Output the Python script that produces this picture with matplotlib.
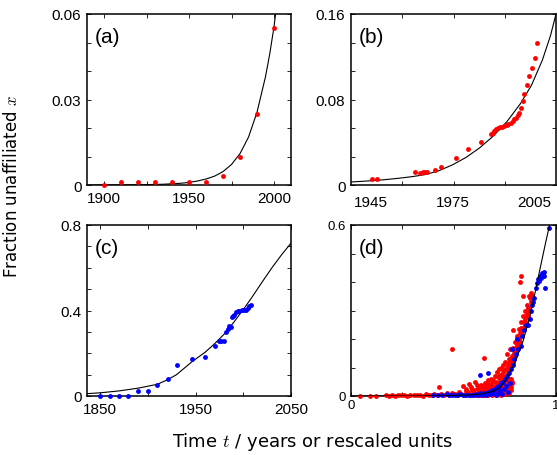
import numpy as np
import matplotlib
matplotlib.use("Agg")
import matplotlib.pyplot as plt

plt.rcParams['mathtext.fontset'] = 'cm'

# (a) red points and fitted curve
a_years = [1900, 1910, 1920, 1930, 1940, 1950, 1960, 1970, 1980, 1990, 2000]
a_frac = [0.0, 0.001, 0.001, 0.001, 0.001, 0.001, 0.001, 0.003, 0.010, 0.025, 0.055]
a_curve_t = [1890, 1920, 1935, 1945, 1950, 1955, 1960, 1965, 1970, 1975, 1980,
             1985, 1990, 1995, 1997.5, 2000, 2002]
a_curve_x = [0.0, 0.00008, 0.00027, 0.0006, 0.0009, 0.0014, 0.0021, 0.0031, 0.0047,
             0.0072, 0.011, 0.0168, 0.0255, 0.038, 0.046, 0.0555, 0.065]

# (b)
b_years = [1945.1, 1946.9, 1961.1, 1962.9, 1963.9, 1964.8, 1965.6, 1968.4, 1970.5,
           1976.0, 1980.7, 1985.4, 1989.1, 1989.7, 1990.3, 1990.9, 1991.5, 1992.4,
           1993.2, 1994.0, 1994.8, 1995.5, 1996.3, 1997.0, 1997.6, 1998.3, 1998.9,
           1999.5, 2000.1, 2000.7, 2001.3, 2002.2, 2003.2, 2004.2, 2005.3, 2006.1]
b_frac = [0.006, 0.006, 0.012, 0.0116, 0.0118, 0.012, 0.0125, 0.014, 0.017,
          0.025, 0.034, 0.040, 0.0475, 0.049, 0.0506, 0.052, 0.0534, 0.0544,
          0.0547, 0.0553, 0.0563, 0.0575, 0.0584, 0.0597, 0.0613, 0.0631, 0.0653,
          0.0678, 0.0725, 0.0788, 0.0856, 0.0934, 0.1022, 0.1091, 0.1191, 0.1325]
b_curve_t = [1937.5, 1945, 1950, 1955, 1960, 1965, 1970, 1975, 1980, 1985, 1990,
             1995, 2000, 2004, 2008, 2011, 2013]
b_curve_x = [0.0028, 0.004, 0.005, 0.0063, 0.0078, 0.0098, 0.0135, 0.019, 0.026,
             0.035, 0.046, 0.0595, 0.0765, 0.0935, 0.117, 0.14, 0.16]

# (c) blue points
c_years = [1850, 1859.7, 1869.8, 1879.5, 1889.9, 1899.7, 1909.4, 1920.5, 1930.2,
           1946.5, 1959.7, 1970.5, 1974.3, 1976.7, 1979.2, 1981.9, 1984.0, 1985.4,
           1987.2, 1988.2, 1988.9, 1990.6, 1992.4, 1994.1, 1995.8, 1998.6, 2000.3,
           2002.8, 2004.5, 2006.3, 2008.0]
c_frac = [0.0, 0.0, 0.0, 0.0, 0.022, 0.022, 0.053, 0.081, 0.143,
          0.171, 0.182, 0.233, 0.259, 0.259, 0.259, 0.301, 0.314, 0.329,
          0.322, 0.368, 0.376, 0.379, 0.391, 0.399, 0.399, 0.402, 0.404,
          0.404, 0.41, 0.419, 0.426]
c_curve_t = [1836, 1850, 1870, 1890, 1910, 1920, 1930, 1946, 1960, 1970, 1980,
             1990, 2000, 2008, 2020, 2030, 2040, 2050]
c_curve_x = [0.011, 0.015, 0.024, 0.037, 0.055, 0.075, 0.1, 0.16, 0.205, 0.245,
             0.29, 0.345, 0.405, 0.455, 0.535, 0.6, 0.66, 0.715]

# (d) rescaled data, red and blue sets
d_red_x = [0.044, 0.095, 0.12, 0.17, 0.185, 0.2, 0.215, 0.23, 0.245, 0.26, 0.275,
           0.29, 0.305, 0.32, 0.335, 0.35, 0.365, 0.38, 0.395, 0.405, 0.42, 0.431,
           0.44, 0.455, 0.47, 0.48, 0.491, 0.495, 0.505, 0.515, 0.525, 0.535, 0.548,
           0.55, 0.56, 0.565, 0.575, 0.58, 0.59, 0.6, 0.605, 0.61, 0.62, 0.625,
           0.635, 0.64, 0.645, 0.649, 0.655, 0.66, 0.665, 0.67, 0.675, 0.68, 0.685,
           0.69, 0.695, 0.7, 0.7, 0.705, 0.71, 0.71, 0.715, 0.72, 0.72, 0.725,
           0.73, 0.73, 0.735, 0.74, 0.74, 0.745, 0.75, 0.75, 0.755, 0.76, 0.76,
           0.765, 0.765, 0.77, 0.77, 0.775, 0.775, 0.78, 0.78, 0.785, 0.79, 0.792,
           0.795, 0.8, 0.805, 0.81, 0.815, 0.82, 0.824, 0.825, 0.828, 0.83, 0.835,
           0.84, 0.841, 0.845, 0.85, 0.855, 0.86, 0.865, 0.873, 0.87, 0.88, 0.885,
           0.61, 0.63, 0.65, 0.67, 0.69, 0.71, 0.73, 0.75, 0.77, 0.782, 0.784,
           0.6, 0.62, 0.64, 0.66, 0.68, 0.7, 0.72, 0.74, 0.76, 0.778,
           0.76, 0.77, 0.775, 0.78, 0.785, 0.79, 0.795, 0.8, 0.805, 0.81,
           0.815, 0.82, 0.825, 0.83, 0.835, 0.84, 0.845, 0.85, 0.855, 0.86,
           0.865, 0.87, 0.875, 0.88, 0.885, 0.8, 0.79, 0.81, 0.83, 0.85,
           0.56, 0.57, 0.585, 0.595, 0.615, 0.63, 0.645, 0.655, 0.665, 0.675,
           0.685, 0.695, 0.705, 0.715, 0.725, 0.735, 0.745, 0.755, 0.765, 0.775,
           0.785, 0.78, 0.77, 0.76, 0.75, 0.73, 0.71, 0.69, 0.67, 0.65]
d_red_y = [0.001, 0.001, 0.001, 0.002, 0.001, 0.003, 0.001, 0.002, 0.004, 0.002, 0.001,
           0.003, 0.005, 0.002, 0.004, 0.001, 0.006, 0.003, 0.002, 0.008, 0.004, 0.03,
           0.006, 0.002, 0.009, 0.004, 0.165, 0.012, 0.006, 0.002, 0.014, 0.008, 0.036,
           0.004, 0.018, 0.01, 0.042, 0.003, 0.022, 0.012, 0.05, 0.006, 0.028, 0.016,
           0.04, 0.008, 0.02, 0.132, 0.045, 0.03, 0.012, 0.055, 0.038, 0.02, 0.06,
           0.045, 0.008, 0.07, 0.03, 0.05, 0.085, 0.015, 0.065, 0.04, 0.095, 0.075,
           0.1, 0.055, 0.02, 0.085, 0.11, 0.065, 0.04, 0.12, 0.095, 0.075, 0.147,
           0.11, 0.05, 0.13, 0.09, 0.165, 0.03, 0.11, 0.06, 0.14, 0.17, 0.233,
           0.15, 0.19, 0.17, 0.21, 0.19, 0.235, 0.401, 0.22, 0.42, 0.26, 0.24,
           0.28, 0.35, 0.26, 0.3, 0.28, 0.32, 0.31, 0.343, 0.35, 0.36, 0.33,
           0.003, 0.004, 0.002, 0.005, 0.003, 0.006, 0.004, 0.008, 0.01, 0.02, 0.045,
           0.02, 0.025, 0.03, 0.022, 0.035, 0.015, 0.025, 0.03, 0.02, 0.06,
           0.1, 0.115, 0.125, 0.135, 0.12, 0.14, 0.13, 0.16, 0.15, 0.18,
           0.17, 0.2, 0.19, 0.22, 0.215, 0.24, 0.235, 0.27, 0.255, 0.29,
           0.28, 0.31, 0.3, 0.33, 0.35, 0.14, 0.115, 0.2, 0.24, 0.25,
           0.025, 0.015, 0.03, 0.008, 0.04, 0.012, 0.035, 0.015, 0.045, 0.025,
           0.04, 0.055, 0.035, 0.045, 0.06, 0.075, 0.09, 0.06, 0.08, 0.095,
           0.05, 0.03, 0.04, 0.02, 0.01, 0.01, 0.005, 0.025, 0.03, 0.005]
d_blue_x = [0.4, 0.425, 0.445, 0.467, 0.48, 0.491, 0.505, 0.52, 0.532, 0.545, 0.56,
            0.575, 0.59, 0.6, 0.61, 0.62, 0.63, 0.629, 0.64, 0.65, 0.66, 0.669,
            0.67, 0.68, 0.69, 0.695, 0.7, 0.705, 0.71, 0.715, 0.72, 0.725, 0.73,
            0.735, 0.74, 0.745, 0.75, 0.755, 0.76, 0.765, 0.77, 0.775, 0.78, 0.784,
            0.79, 0.795, 0.805, 0.811, 0.815, 0.828, 0.835, 0.845, 0.855, 0.865,
            0.873, 0.878, 0.885, 0.889, 0.893, 0.9, 0.905, 0.91, 0.915, 0.92,
            0.925, 0.93, 0.935, 0.94, 0.943, 0.946, 0.968]
d_blue_y = [0.003, 0.005, 0.002, 0.006, 0.002, 0.005, 0.003, 0.002, 0.006, 0.002, 0.004,
            0.002, 0.005, 0.002, 0.008, 0.003, 0.01, 0.074, 0.005, 0.012, 0.004, 0.08,
            0.015, 0.007, 0.02, 0.01, 0.025, 0.005, 0.03, 0.012, 0.035, 0.02, 0.045,
            0.008, 0.05, 0.025, 0.06, 0.035, 0.07, 0.015, 0.08, 0.045, 0.095, 0.165,
            0.11, 0.13, 0.148, 0.2, 0.165, 0.176, 0.21, 0.23, 0.25, 0.25,
            0.27, 0.3, 0.32, 0.33, 0.345, 0.38, 0.395, 0.41, 0.405, 0.42,
            0.415, 0.43, 0.425, 0.435, 0.42, 0.38, 0.589]
d_curve_s = [0.0, 0.3, 0.45, 0.55, 0.6, 0.65, 0.7, 0.73, 0.76, 0.8, 0.84, 0.873,
             0.9, 0.922, 0.95, 0.975]
d_curve_x = [0.0, 0.0, 0.001, 0.003, 0.005, 0.009, 0.018, 0.032, 0.062, 0.118,
             0.194, 0.282, 0.37, 0.446, 0.54, 0.62]

W, H = 557, 456
fig = plt.figure(figsize=(W / 100, H / 100), dpi=100)

def box(l, t, r, b):
    return [l / W, 1 - b / H, (r - l) / W, (b - t) / H]

TICKFONT = 'Liberation Sans'


def style(ax, xlim, ylim, xmaj, xlab, ymaj, ylab, xmin, ymin, fs=11):
    ax.set_xlim(*xlim)
    ax.set_ylim(*ylim)
    ax.set_xticks(xmaj)
    ax.set_xticklabels(xlab)
    ax.set_yticks(ymaj)
    ax.set_yticklabels(ylab)
    ax.set_xticks(xmin, minor=True)
    ax.set_yticks(ymin, minor=True)
    ax.tick_params(which='both', direction='in', top=True, right=True,
                   length=3.2, width=0.6)
    ax.tick_params(axis='x', pad=4)
    ax.tick_params(axis='y', pad=4)
    for lab in ax.get_xticklabels() + ax.get_yticklabels():
        lab.set_fontfamily(TICKFONT)
        lab.set_fontsize(fs)
    for s in ax.spines.values():
        s.set_linewidth(1.1)


def panel_label(ax, s):
    ax.text(0.04, 0.87, s, transform=ax.transAxes, fontsize=15,
            family=TICKFONT, ha='left', va='center')


dot = dict(ls='none', marker='o', ms=3.5, mec='none', clip_on=False, zorder=3)

# (a)
ax = fig.add_axes(box(87, 15, 291, 186))
ax.plot(a_curve_t, a_curve_x, color='black', lw=0.8)
ax.plot(a_years, a_frac, color='red', **dot)
style(ax, (1890, 2010), (0, 0.06), [1900, 1950, 2000], ['1900', '1950', '2000'],
      [0, 0.03, 0.06], ['0', '0.03', '0.06'], [1925, 1975],
      [0.01, 0.02, 0.04, 0.05])
panel_label(ax, '(a)')

# (b)
ax = fig.add_axes(box(351, 15, 556, 186))
ax.plot(b_curve_t, b_curve_x, color='black', lw=0.8)
ax.plot(b_years, b_frac, color='red', **dot)
bx = (1937.5, 2013)
style(ax, bx, (0, 0.16), [1945, 1975, 2005], ['1945', '1975', '2005'],
      [0, 0.08, 0.16], ['0', '0.08', '0.16'], np.linspace(*bx, 5)[1:-1],
      np.linspace(0, 0.16, 7)[1:-1])
ax.tick_params(axis='x', which='major', length=0, pad=7.2)
panel_label(ax, '(b)')

# (c)
ax = fig.add_axes(box(87, 226, 291, 397))
ax.plot(c_curve_t, c_curve_x, color='black', lw=0.8)
ax.plot(c_years, c_frac, color='blue', **dot)
style(ax, (1836, 2050), (0, 0.8), [1850, 1950, 2050], ['1850', '1950', '2050'],
      [0, 0.4, 0.8], ['0', '0.4', '0.8'], [1900, 2000],
      [0.1, 0.2, 0.3, 0.5, 0.6, 0.7])
panel_label(ax, '(c)')

# (d)
ax = fig.add_axes(box(351, 226, 556, 397))
ax.plot(d_red_x, d_red_y, color='red', **dot)
ax.plot(d_blue_x, d_blue_y, color='blue', **dot)
ax.plot(d_curve_s, d_curve_x, color='black', lw=0.8, zorder=4)
style(ax, (0, 1), (0, 0.6), [0, 1], ['0', '1'], [0, 0.6], ['0', '0.6'],
      [0.25, 0.5, 0.75], [0.1, 0.2, 0.3, 0.4, 0.5], fs=9.5)
ax.tick_params(axis='x', pad=2.5)
panel_label(ax, '(d)')

fig.text(0.022, 0.592, 'Fraction unaffiliated $x$', rotation=90,
         ha='center', va='center', fontsize=12)
fig.text(0.562, 0.03, 'Time $t$ / years or rescaled units',
         ha='center', va='center', fontsize=13)

fig.savefig('out.png', dpi=100)
